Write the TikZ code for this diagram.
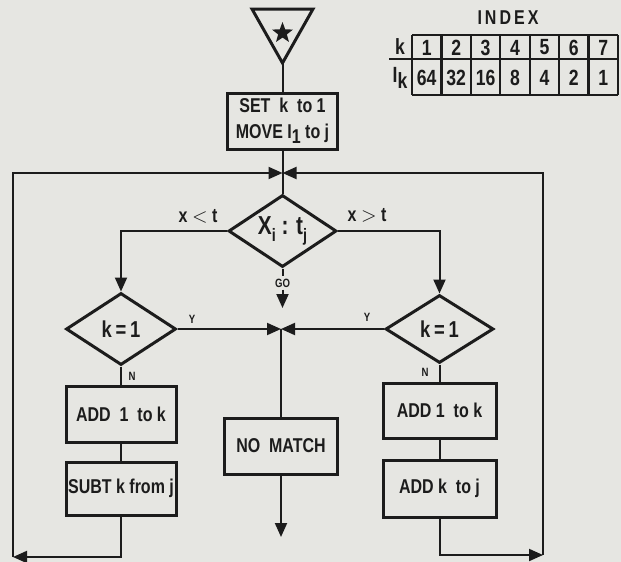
\documentclass[tikz,border=0pt]{standalone}
\usepackage{fontspec}
\setmainfont[FakeStretch=0.8]{Liberation Sans}
\usetikzlibrary{arrows.meta,shapes.geometric}
\definecolor{paper}{RGB}{230,230,226}
\definecolor{ink}{RGB}{28,28,28}
\newcommand{\sbs}[1]{\raisebox{-0.45ex}{#1}}
\begin{document}
\begin{tikzpicture}[x=0.5pt,y=-0.5pt,
  boxnode/.style={draw=ink, line width=1.5pt, rectangle, text=ink, font=\bfseries\fontsize{10}{13}\selectfont, inner sep=0pt, align=center},
  dianode/.style={draw=ink, line width=1.5pt, diamond, aspect=1.5, inner sep=0pt, text=ink, font=\bfseries\fontsize{11.5}{12}\selectfont},
  conn/.style={draw=ink, line width=1pt},
  arr/.style={conn, -{Triangle[length=7pt,width=6pt]}},
  tinylbl/.style={font=\bfseries\fontsize{6}{7}\selectfont, text=ink, inner sep=1pt},
  lbl/.style={font=\bfseries\fontsize{10}{11}\selectfont, text=ink, inner sep=0pt},
  tab/.style={draw=ink, line width=1.1pt},
  tabtxt/.style={font=\bfseries\fontsize{11}{12}\selectfont, text=ink, inner sep=0pt},
]
\fill[paper] (0,0) rectangle (621,562);
\useasboundingbox (0,0) rectangle (621,562);

% start triangle with star
\draw[ink, line width=1.5pt, line join=miter] (252,9) -- (313,9) -- (282.5,63) -- cycle;
\node[star, star points=5, star point ratio=2.4, fill=ink, minimum size=11pt, inner sep=0pt] (star) at (282.5,33) {};
\coordinate (apex) at (282.5,63);

% boxes
\node[boxnode, minimum width=55pt, minimum height=28pt] (set) at (282.5,121) {SET\ \ k\ \ to 1\\MOVE I\sbs{1} to j};
\node[dianode, minimum width=54pt, minimum height=36pt, font=\bfseries\fontsize{13}{14}\selectfont] (main) at (282.5,231) {X\sbs{\fontsize{9}{9}\selectfont i} : t\sbs{\fontsize{9}{9}\selectfont j}};
\node[dianode, minimum width=55pt, minimum height=36pt] (ldia) at (121,329) {k\,=\,1};
\node[dianode, minimum width=54pt, minimum height=34pt] (rdia) at (439.5,329) {k\,=\,1};
\node[boxnode, minimum width=55pt, minimum height=28pt] (addl) at (121,414) {ADD\ \ 1\ \ to k};
\node[boxnode, minimum width=55pt, minimum height=26.5pt] (subt) at (121,488.5) {SUBT k from j};
\node[boxnode, minimum width=56.5pt, minimum height=28pt] (nomatch) at (281,446) {NO\ \ MATCH};
\node[boxnode, minimum width=56.5pt, minimum height=27.5pt] (addr) at (439.5,410.5) {ADD 1\ \ to k};
\node[boxnode, minimum width=56.5pt, minimum height=28.5pt] (addk) at (439.5,488.5) {ADD k\ \ to j};

% junctions and free ends
\coordinate (j1) at (282.5,173);
\coordinate (j2) at (281,329);
\coordinate (tl) at (13,173);
\coordinate (bl) at (13,557);
\coordinate (tr) at (543,173);
\coordinate (br) at (543,555);
\coordinate (goend) at (282.5,308);
\coordinate (nmend) at (281,537);

% connectors
\draw[conn] (apex) -- (set.north);
\draw[conn] (set.south) -- (main.north);
\draw[arr] (main.west) -| (ldia.north);
\draw[arr] (main.east) -| (rdia.north);
\node[lbl] (lt) at (198,216) {x $<$ t};
\node[lbl] (gt) at (367,215) {x $>$ t};
\node[tinylbl, fill=paper] (go) at (282.5,283) {GO};
\draw[conn] (main.south) -- (go.north);
\draw[arr] (go.south) -- (goend);
\draw[arr] (ldia.east) -- (j2);
\draw[arr] (rdia.west) -- (j2);
\node[tinylbl] (yl) at (192,319) {Y};
\node[tinylbl] (yr) at (367,317) {Y};
\draw[conn] (ldia.south) -- (addl.north);
\draw[conn] (rdia.south) -- (addr.north);
\node[tinylbl] (nl) at (132,376) {N};
\node[tinylbl] (nr) at (425,372) {N};
\draw[conn] (addl) -- (subt);
\draw[conn] (addr) -- (addk);
\draw[conn] (j2) -- (nomatch.north);
\draw[arr] (nomatch.south) -- (nmend);
\draw[arr] (subt.south) |- (bl);
\draw[arr] (bl) -- (tl) -- (j1);
\draw[arr] (addk.south) |- (br);
\draw[arr] (br) -- (tr) -- (j1);

% index table
\node[font=\bfseries\fontsize{10}{11}\selectfont\addfontfeatures{LetterSpace=15}, text=ink] (index) at (508,18) {INDEX};
\foreach \i in {0,...,7} { \draw[tab] ({412+\i*29.43},35) -- ({412+\i*29.43},95); }
\draw[tab] (412,35) -- (618,35);
\draw[tab] (389,59) -- (618,59);
\draw[tab] (412,95) -- (618,95);
\node[tabtxt] (kl) at (400,47) {k};
\node[tabtxt] (ikl) at (400,78) {I\sbs{k}};
\foreach \i/\a/\b in {1/1/64,2/2/32,3/3/16,4/4/8,5/5/4,6/6/2,7/7/1} {
  \node[tabtxt] (c\i) at ({412+(\i-0.5)*29.43},47.5) {\a};
  \node[tabtxt] (d\i) at ({412+(\i-0.5)*29.43},77.5) {\b};
}
\end{tikzpicture}
\end{document}
